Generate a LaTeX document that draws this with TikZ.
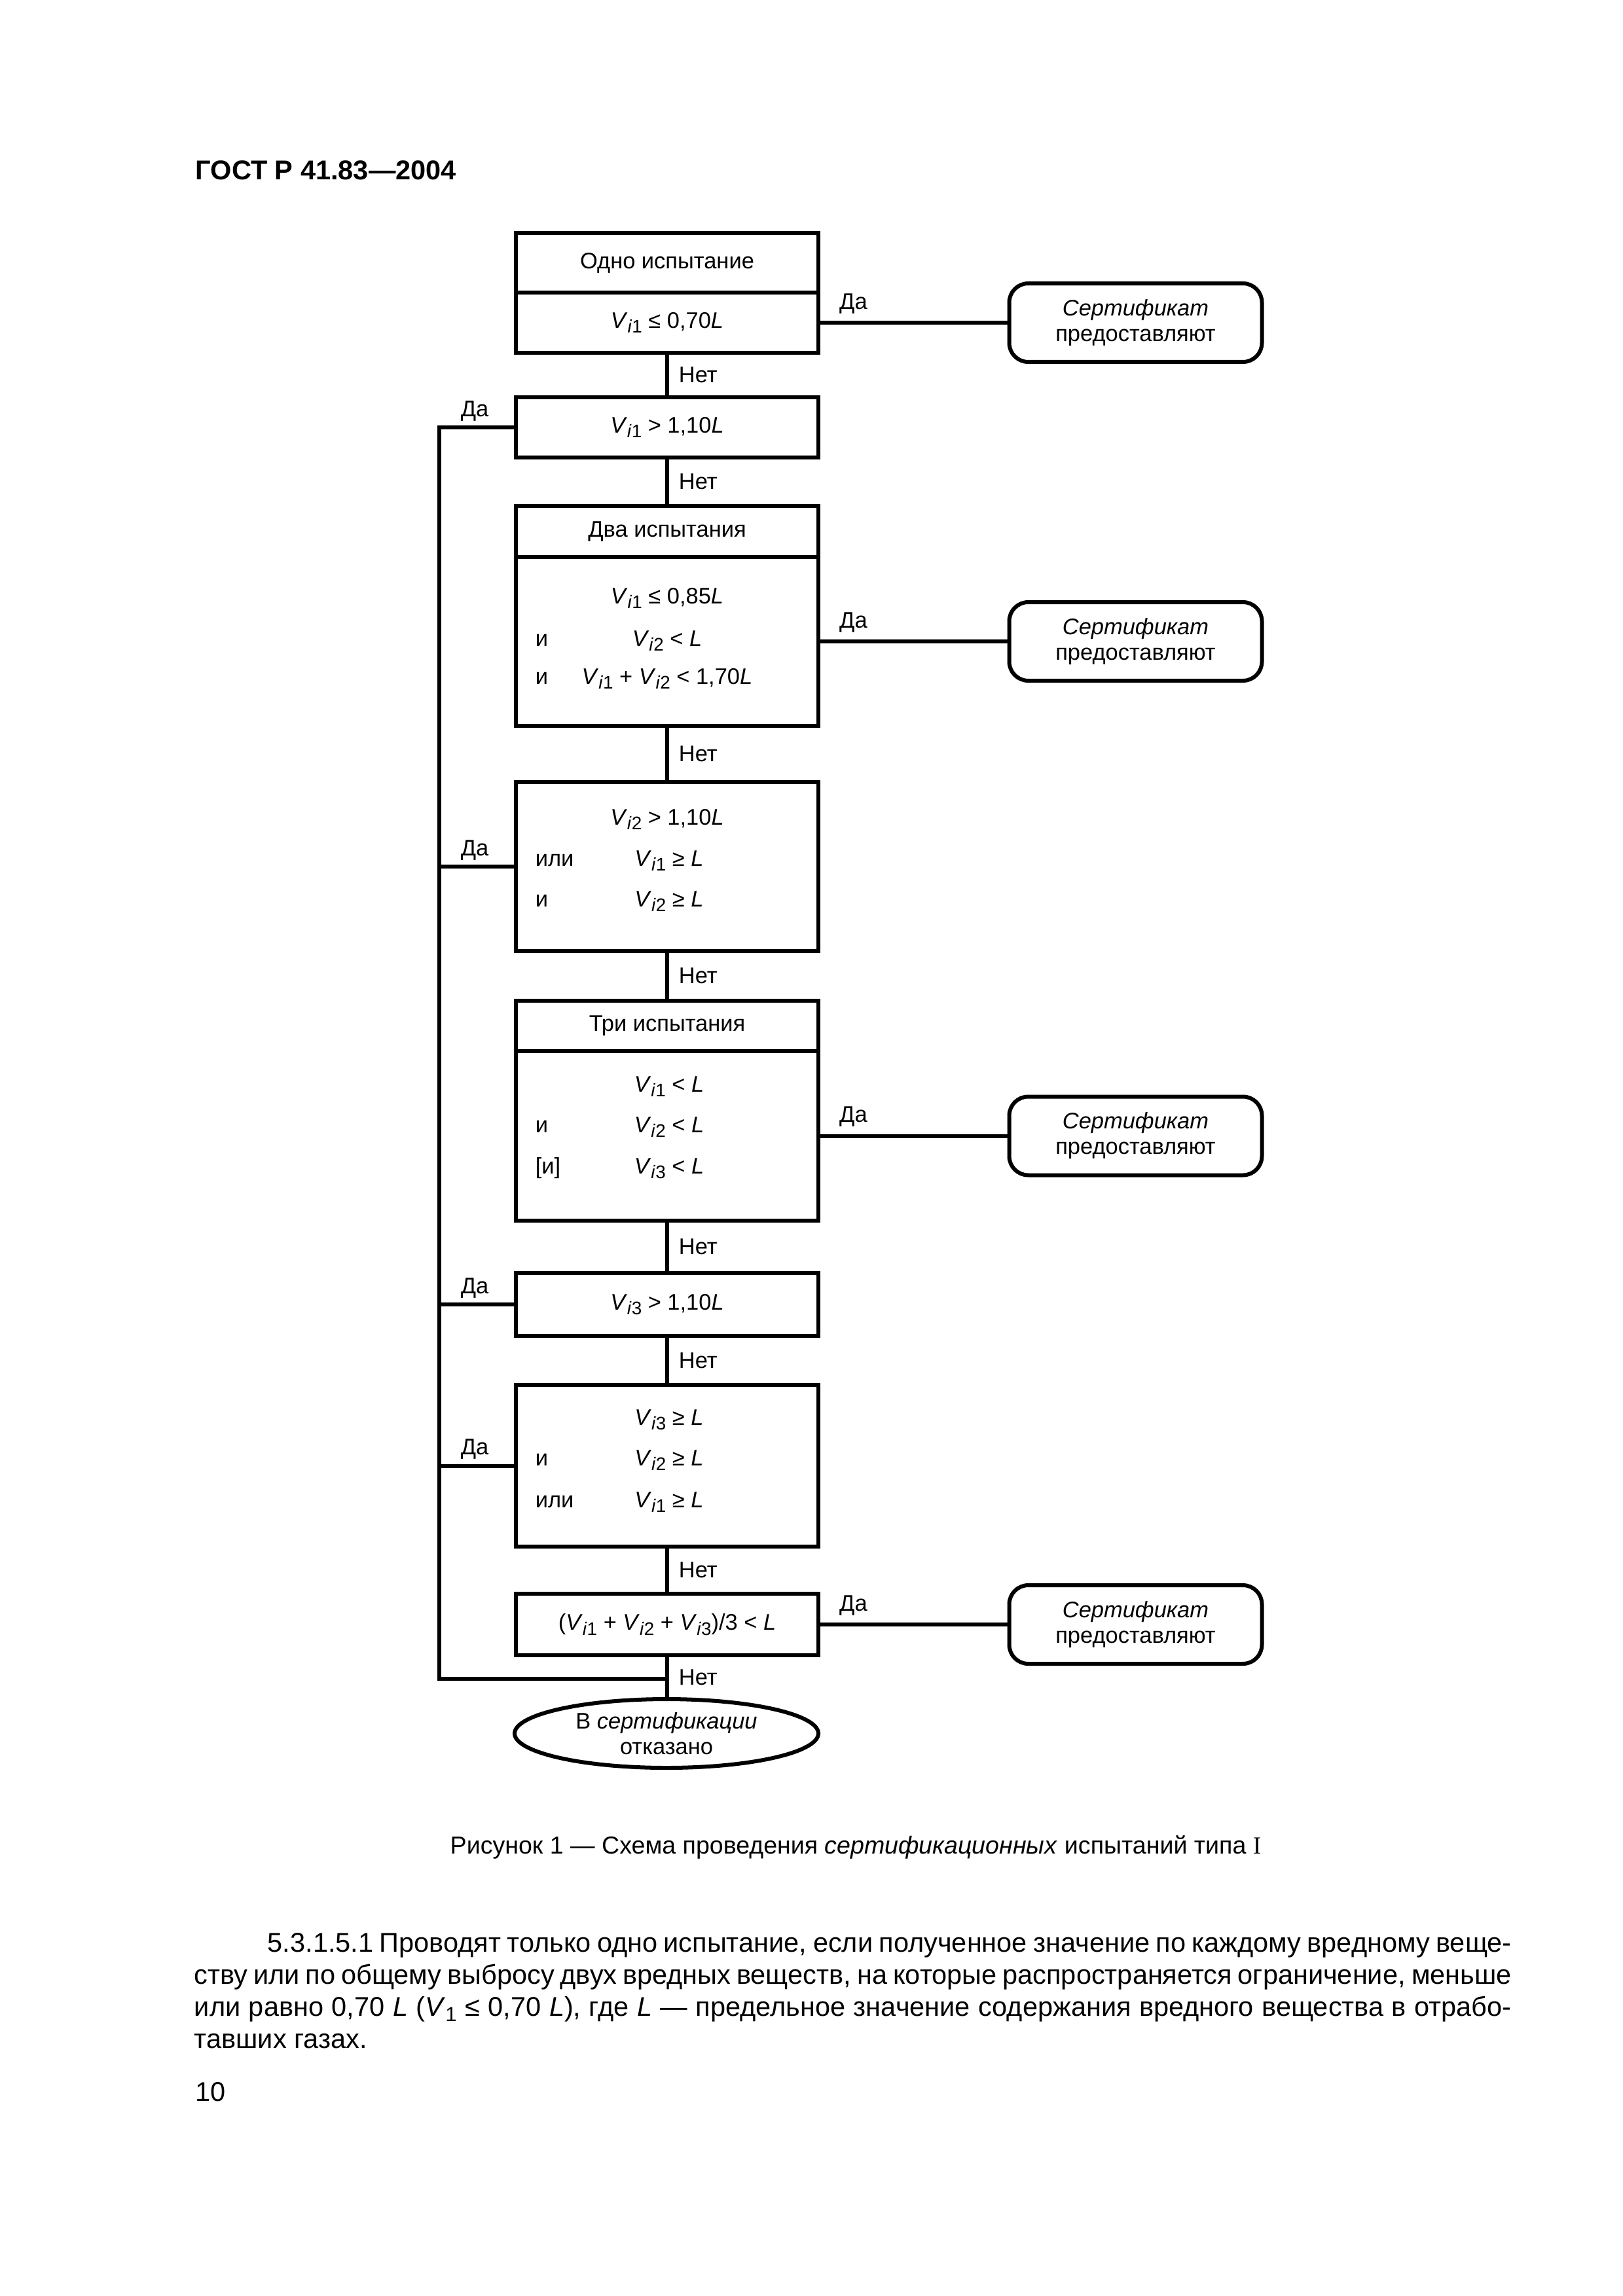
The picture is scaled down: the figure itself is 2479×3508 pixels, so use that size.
\documentclass[tikz,border=0pt]{standalone}
\usepackage{fontspec}
\setmainfont{Liberation Sans}
\newfontfamily\serifI{Liberation Serif}
\usetikzlibrary{shapes.geometric}
\newlength\pxu
\setlength\pxu{0.24090pt}
\newcommand\dfont{\fontsize{8.3}{9.4}\selectfont}
\newcommand\Vs[1]{\textit{V}\raisebox{-0.4ex}{\fontsize{6.7}{7}\selectfont\textit{i}#1}}
\newcommand\Vone{\textit{V}\raisebox{-0.4ex}{\fontsize{7.5}{8}\selectfont 1}}
\begin{document}
\begin{tikzpicture}[x=0.2409pt, y=-0.2409pt,
  every node/.style={font=\dfont},
  box/.style={draw, line width=1.45pt, minimum width=462*\pxu, inner sep=0pt, align=center},
  rbox/.style={draw, line width=1.45pt, rounded corners=7pt, minimum width=386*\pxu, minimum height=120*\pxu, inner sep=0pt, align=center},
  conn/.style={line width=1.45pt},
  row/.style={inner sep=0pt, anchor=base},
  word/.style={inner sep=0pt, anchor=base west},
  nlab/.style={inner sep=0pt, anchor=west, xshift=3.6pt},
  dlab/.style={inner sep=0pt, anchor=base west, xshift=6.3pt, yshift=5pt},
  llab/.style={inner sep=0pt, anchor=base west, xshift=7.2pt, yshift=4pt},
  para/.style={inner sep=0pt, anchor=base west, font=\fontsize{10}{12}\selectfont},
]
\fill[white] (0,0) rectangle (2479,3508);
\useasboundingbox (0,0) rectangle (2479,3508);

% header and page number
\node[inner sep=0pt, anchor=base west, font=\fontsize{10}{12}\selectfont\bfseries] (hdr) at (298,274) {ГОСТ Р 41.83—2004};
\node[inner sep=0pt, anchor=base west, font=\fontsize{10}{12}\selectfont] (pg) at (298,3210) {10};

% boxes
\node[box, minimum height=91*\pxu] (b1h) at (1019,401.5) {Одно испытание};
\node[box, minimum height=92*\pxu] (b1c) at (1019,493) {\Vs{1} ≤ 0,70\textit{L}};
\node[box, minimum height=92*\pxu] (b2) at (1019,653) {\Vs{1} > 1,10\textit{L}};
\node[box, minimum height=78*\pxu] (b3h) at (1019,812) {Два испытания};
\node[box, minimum height=258*\pxu] (b3c) at (1019,980) {};
\node[box, minimum height=258*\pxu] (b4) at (1019,1324) {};
\node[box, minimum height=77*\pxu] (b5h) at (1019,1567.5) {Три испытания};
\node[box, minimum height=259*\pxu] (b5c) at (1019,1735.5) {};
\node[box, minimum height=96*\pxu] (b6) at (1019,1993) {\Vs{3} > 1,10\textit{L}};
\node[box, minimum height=247*\pxu] (b7) at (1019,2239.5) {};
\node[box, minimum height=94*\pxu] (b8) at (1019,2482) {(\Vs{1} + \Vs{2} + \Vs{3})/3 < \textit{L}};
\node[draw, ellipse, line width=1.45pt, minimum width=464*\pxu, minimum height=105*\pxu, inner sep=0pt, align=center] (ell) at (1018,2648.5) {В \textit{сертификации}\\отказано};

% rows inside tall boxes
\node[row] (b3r1) at (1019,922) {\Vs{1} ≤ 0,85\textit{L}};
\node[row] (b3r2) at (1019,987) {\Vs{2} < \textit{L}};
\node[row] (b3r3) at (1019,1045) {\Vs{1} + \Vs{2} < 1,70\textit{L}};
\node[word] (b3w2) at (817,987) {и};
\node[word] (b3w3) at (817,1045) {и};

\node[row] (b4r1) at (1019,1260) {\Vs{2} > 1,10\textit{L}};
\node[row] (b4r2) at (1022,1323) {\Vs{1} ≥ \textit{L}};
\node[row] (b4r3) at (1022,1385) {\Vs{2} ≥ \textit{L}};
\node[word] (b4w2) at (817,1323) {или};
\node[word] (b4w3) at (817,1385) {и};

\node[row] (b5r1) at (1022,1668) {\Vs{1} < \textit{L}};
\node[row] (b5r2) at (1022,1730) {\Vs{2} < \textit{L}};
\node[row] (b5r3) at (1022,1793) {\Vs{3} < \textit{L}};
\node[word] (b5w2) at (817,1730) {и};
\node[word] (b5w3) at (817,1793) {[и]};

\node[row] (b7r1) at (1022,2177) {\Vs{3} ≥ \textit{L}};
\node[row] (b7r2) at (1022,2239) {\Vs{2} ≥ \textit{L}};
\node[row] (b7r3) at (1022,2303) {\Vs{1} ≥ \textit{L}};
\node[word] (b7w2) at (817,2239) {и};
\node[word] (b7w3) at (817,2303) {или};

% result boxes
\node[rbox] (r1) at (1734.5,493) {\textit{Сертификат}\\предоставляют};
\node[rbox] (r2) at (1734.5,980) {\textit{Сертификат}\\предоставляют};
\node[rbox] (r3) at (1734.5,1735.5) {\textit{Сертификат}\\предоставляют};
\node[rbox] (r4) at (1734.5,2482) {\textit{Сертификат}\\предоставляют};

% vertical "Нет" connectors
\draw[conn] (b1c.south) -- node[nlab]{Нет} (b2.north);
\draw[conn] (b2.south) -- node[nlab]{Нет} (b3h.north);
\draw[conn] (b3c.south) -- node[nlab]{Нет} (b4.north);
\draw[conn] (b4.south) -- node[nlab]{Нет} (b5h.north);
\draw[conn] (b5c.south) -- node[nlab]{Нет} (b6.north);
\draw[conn] (b6.south) -- node[nlab]{Нет} (b7.north);
\draw[conn] (b7.south) -- node[nlab]{Нет} (b8.north);
\draw[conn] (b8.south) -- node[nlab]{Нет} (b8.south |- ell.north);

% right "Да" connectors
\draw[conn] (b1c.east) -- node[pos=0, dlab]{Да} (r1.west);
\draw[conn] (b3c.east) -- node[pos=0, dlab]{Да} (r2.west);
\draw[conn] (b5c.east) -- node[pos=0, dlab]{Да} (r3.west);
\draw[conn] (b8.east) -- node[pos=0, dlab]{Да} (r4.west);

% left "Да" branch
\coordinate (lx) at (671,0);
\coordinate (jn) at (1019,2565);
\draw[conn] (b2.west) -- (b2.west -| lx) node[pos=1, llab]{Да} -- (lx |- jn) -- (jn);
\draw[conn] (b4.west -| lx) -- node[pos=0, llab]{Да} (b4.west);
\draw[conn] (b6.west -| lx) -- node[pos=0, llab]{Да} (b6.west);
\draw[conn] (b7.west -| lx) -- node[pos=0, llab]{Да} (b7.west);

% caption
\node[inner sep=0pt, anchor=base, font=\fontsize{9.05}{11}\selectfont] (cap) at (1307,2832) {Рисунок 1 — Схема проведения \textit{сертификационных} испытаний типа {\serifI I}};

% paragraph
\node[para] (p1) at (408,2982) {\spaceskip=2.78pt plus 3pt minus 1.2pt\hbox to 457.7pt{5.3.1.5.1 Проводят только одно испытание, если полученное значение по каждому вредному веще-}};
\node[para] (p2) at (296,3031) {\spaceskip=2.78pt plus 3pt minus 1.2pt\hbox to 484.7pt{ству или по общему выбросу двух вредных веществ, на которые распространяется ограничение, меньше}};
\node[para] (p3) at (296,3080) {\spaceskip=2.78pt plus 3pt minus 1.2pt\hbox to 484.7pt{или равно 0,70 \textit{L} (\Vone{} ≤ 0,70 \textit{L}),\ где \textit{L} — предельное значение содержания вредного вещества в отрабо-}};
\node[para] (p4) at (296,3129) {тавших газах.};
\end{tikzpicture}
\end{document}
